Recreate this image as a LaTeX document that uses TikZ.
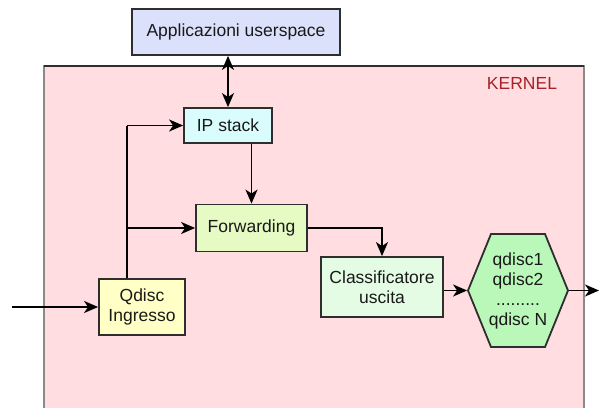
\documentclass[tikz,border=0pt]{standalone}
\usepackage{fontspec}
\setmainfont{Liberation Sans}
\usetikzlibrary{arrows.meta}
\definecolor{kernelfill}{HTML}{FFDDE0}
\definecolor{kernelline}{HTML}{8A8A8A}
\definecolor{kerneltext}{HTML}{A52228}
\definecolor{appfill}{HTML}{DCE1FB}
\definecolor{ipfill}{HTML}{D9FDFC}
\definecolor{fwdfill}{HTML}{E6FAC4}
\definecolor{qinfill}{HTML}{FFFFC6}
\definecolor{clsfill}{HTML}{E4FCE4}
\definecolor{hexfill}{HTML}{B9F8B9}
\definecolor{edge}{HTML}{2E2E2E}
\begin{document}
\begin{tikzpicture}[x=1pt,y=-1pt,
  box/.style={draw=edge,line width=1.8pt,inner sep=0pt,align=center,
    text=black!90,font=\fontsize{17.5}{20.5}\selectfont},
  conn/.style={draw=black,line width=1.8pt},
  arr/.style={conn,-{Stealth[length=14pt,width=12pt,inset=4pt]}},
  darr/.style={conn,{Stealth[length=14pt,width=12pt,inset=4pt]}-{Stealth[length=14pt,width=12pt,inset=4pt]}}]
\clip (0,0) rectangle (599,407);
% kernel area
\path[fill=kernelfill,draw=kernelline,line width=1.5pt] (44,66) rectangle (584,420);
\draw[edge,line width=1.5pt] (44,66) -- (584,66);
\node[text=kerneltext,font=\fontsize{17.5}{20}\selectfont,anchor=center] (kernel) at (522,83) {KERNEL};
% hexagon shape
\path[fill=hexfill,draw=edge,line width=1.8pt] (468,290.5) -- (491,234) -- (545,234) -- (568,290.5) -- (545,347) -- (491,347) -- cycle;
% nodes
\node[box,fill=appfill,minimum width=208pt,minimum height=46pt] (app) at (236,32) {Applicazioni userspace};
\node[box,fill=ipfill,minimum width=88pt,minimum height=35pt] (ip) at (228,125.5) {IP stack};
\node[box,fill=fwdfill,minimum width=111pt,minimum height=47pt] (fwd) at (251.5,228) {Forwarding};
\node[box,fill=qinfill,minimum width=86pt,minimum height=56pt] (qin) at (142,307) {Qdisc\\Ingresso};
\node[box,fill=clsfill,minimum width=122pt,minimum height=60pt] (cls) at (382,287) {Classificatore\\uscita};
\node[box,draw=none,minimum width=100pt,minimum height=113pt,font=\fontsize{17.5}{20}\selectfont] (hex) at (518,290.5) {qdisc1\\qdisc2\\.........\\qdisc N};
% coordinates
\coordinate (in) at (12,307);
\coordinate (out) at (599,290.5);
\coordinate (tap) at ([xshift=-15pt]qin.north);
% connectors
\draw[darr] (ip.north) -- (ip.north |- app.south);
\draw[conn] (tap) -- (tap |- ip.west);
\draw[arr] (tap |- ip.west) -- (ip.west);
\draw[arr] (tap |- fwd.west) -- (fwd.west);
\draw[arr] (ip.south -| fwd.north) -- (fwd.north);
\draw[arr] (fwd.east) -| (cls.north);
\draw[arr] (in) -- (qin.west);
\draw[arr] (cls.east |- hex.west) -- (hex.west);
\draw[arr] (hex.east) -- (out);
\end{tikzpicture}
\end{document}
